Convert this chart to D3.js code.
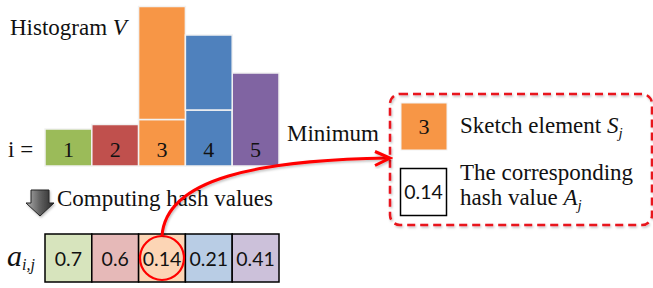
<!DOCTYPE html>
<html><head><meta charset="utf-8">
<script src="https://cdn.jsdelivr.net/npm/d3@7"></script>
<style>html,body{margin:0;padding:0;background:#fff;}svg{display:block;}</style>
</head><body>
<svg id="c" width="653" height="288"></svg>
<script>
// ---- data ----
const categories = [1, 2, 3, 4, 5];
const baseCounts = [37, 41.5, 46.5, 56, 93];     // lower block of each histogram bar
const extraCounts = [0, 0, 113, 75, 0];         // stacked upper block
const hashValues = ["0.7", "0.6", "0.14", "0.21", "0.41"];
const barColors = ["#9BBB59", "#C0504D", "#F79646", "#4F81BD", "#8064A2"];
const cellColors = ["#D7E4BD", "#E6B9B8", "#FCD5B5", "#B9CDE5", "#CCC1DA"];
const minIndex = 2;

const svg = d3.select("#c");
const serif = "'Liberation Serif','Times New Roman',serif";
const sans = "Lato,'Open Sans',sans-serif";
const FS = 23;

const x = d3.scaleBand().domain(categories).range([45, 279]).padding(0);
const y = d3.scaleLinear().domain([0, 160]).range([166, 6]);

const defs = svg.append("defs");
const f = defs.append("filter").attr("id", "sh").attr("x", "-10%").attr("y", "-10%").attr("width", "130%").attr("height", "130%");
f.append("feDropShadow").attr("dx", 1).attr("dy", 1.5).attr("stdDeviation", 1).attr("flood-color", "#000").attr("flood-opacity", 0.25);
const g = defs.append("linearGradient").attr("id", "ag").attr("x1", 0).attr("x2", 1).attr("y1", 0).attr("y2", 0);
g.append("stop").attr("offset", 0).attr("stop-color", "#b0b0b0");
g.append("stop").attr("offset", 0.5).attr("stop-color", "#606060");
g.append("stop").attr("offset", 1).attr("stop-color", "#2a2a2a");

// ---- histogram ----
const bars = svg.append("g");
bars.selectAll("rect.base").data(categories).join("rect")
  .attr("x", d => x(d)).attr("width", x.bandwidth())
  .attr("y", (d, i) => y(baseCounts[i])).attr("height", (d, i) => y(0) - y(baseCounts[i]))
  .attr("fill", (d, i) => barColors[i]).attr("stroke", "#f2f2f2").attr("stroke-width", 1.5);
bars.selectAll("rect.extra").data(categories.filter((d, i) => extraCounts[i] > 0)).join("rect")
  .attr("x", d => x(d)).attr("width", x.bandwidth())
  .attr("y", d => { const i = categories.indexOf(d); return y(baseCounts[i] + extraCounts[i]); })
  .attr("height", d => { const i = categories.indexOf(d); return y(0) - y(extraCounts[i]); })
  .attr("fill", d => barColors[categories.indexOf(d)]).attr("stroke", "#f2f2f2").attr("stroke-width", 1.5);
bars.selectAll("text").data(categories).join("text")
  .attr("x", d => x(d) + x.bandwidth() / 2).attr("y", 157)
  .attr("text-anchor", "middle").attr("font-family", serif).attr("font-size", 22).attr("fill", "#111")
  .text(d => d);

svg.append("text").attr("x", 10).attr("y", 35).attr("font-family", serif).attr("font-size", FS).attr("fill", "#111")
  .text("Histogram ").append("tspan").attr("font-style", "italic").text("V");
svg.append("text").attr("x", 8).attr("y", 157).attr("font-family", serif).attr("font-size", FS).attr("fill", "#111").text("i =");

// ---- computing arrow ----
svg.append("path")
  .attr("d", "M31,190 L49,190 L49,203 L54,203 L40,216 L26,203 L31,203 Z")
  .attr("fill", "url(#ag)").attr("stroke", "#222").attr("stroke-width", 1).attr("filter", "url(#sh)");
svg.append("text").attr("x", 57).attr("y", 206).attr("font-family", serif).attr("font-size", FS).attr("fill", "#111").text("Computing hash values");

// ---- hash row ----
const cellY = 234, cellH = 48;
const row = svg.append("g");
row.selectAll("rect").data(categories).join("rect")
  .attr("x", d => x(d)).attr("width", x.bandwidth()).attr("y", cellY).attr("height", cellH)
  .attr("fill", (d, i) => cellColors[i]).attr("stroke", "#000").attr("stroke-width", 1.5);
const cx = x(categories[minIndex]) + x.bandwidth() / 2, cy = cellY + cellH / 2;
row.append("circle").attr("cx", cx).attr("cy", cy).attr("r", 22)
  .attr("fill", cellColors[minIndex]).attr("stroke", "#FF0000").attr("stroke-width", 2.2);
row.selectAll("text").data(categories).join("text")
  .attr("x", d => x(d) + x.bandwidth() / 2).attr("y", cellY + 32)
  .attr("text-anchor", "middle").attr("font-family", sans).attr("font-size", 19.5).attr("fill", "#111")
  .text((d, i) => hashValues[i]);

const at = svg.append("text").attr("x", 7).attr("y", 266).attr("font-family", serif).attr("font-style", "italic").attr("fill", "#111");
at.append("tspan").attr("font-size", 30).text("a");
at.append("tspan").attr("font-size", 16).attr("dy", 4).text("i,j");

// ---- dashed box ----
const bx = 390, by = 94, bw = 262, bh = 131;
svg.append("rect").attr("x", bx).attr("y", by).attr("width", bw).attr("height", bh).attr("rx", 10)
  .attr("fill", "none").attr("stroke", "#E8141B").attr("stroke-width", 2.5).attr("stroke-dasharray", "8,5")
  .attr("filter", "url(#sh)");
svg.append("rect").attr("x", 401).attr("y", 103).attr("width", 46).attr("height", 47)
  .attr("fill", barColors[minIndex]).attr("stroke", "#f2f2f2").attr("stroke-width", 1);
svg.append("text").attr("x", 424).attr("y", 134).attr("text-anchor", "middle").attr("font-family", serif).attr("font-size", 22).attr("fill", "#111")
  .text(categories[minIndex]);
svg.append("rect").attr("x", 400.5).attr("y", 168.5).attr("width", 46).attr("height", 47)
  .attr("fill", "#fff").attr("stroke", "#000").attr("stroke-width", 1.5);
svg.append("text").attr("x", 423.5).attr("y", 199).attr("text-anchor", "middle").attr("font-family", sans).attr("font-size", 19.5).attr("fill", "#111")
  .text(hashValues[minIndex]);

const t1 = svg.append("text").attr("x", 460).attr("y", 133).attr("font-family", serif).attr("font-size", FS).attr("fill", "#111");
t1.append("tspan").text("Sketch element ");
t1.append("tspan").attr("font-style", "italic").text("S");
t1.append("tspan").attr("font-style", "italic").attr("font-size", 15).attr("dy", 5).text("j");
svg.append("text").attr("x", 460).attr("y", 180).attr("font-family", serif).attr("font-size", FS).attr("fill", "#111").text("The corresponding");
const t2 = svg.append("text").attr("x", 460).attr("y", 205).attr("font-family", serif).attr("font-size", FS).attr("fill", "#111");
t2.append("tspan").text("hash value ");
t2.append("tspan").attr("font-style", "italic").text("A");
t2.append("tspan").attr("font-style", "italic").attr("font-size", 15).attr("dy", 5).text("j");

svg.append("text").attr("x", 287).attr("y", 141).attr("font-family", serif).attr("font-size", FS).attr("fill", "#111").text("Minimum");

// ---- connector ----
const p = d3.path();
p.moveTo(cx, cy - 22);
p.bezierCurveTo(cx + 4, 178, 260, 160, bx - 2, 158);
svg.append("path").attr("d", p.toString()).attr("fill", "none").attr("stroke", "#FF0000").attr("stroke-width", 3).attr("filter", "url(#sh)");
svg.append("path").attr("d", `M${bx - 15},151.5 L${bx},158 L${bx - 15},165.5`)
  .attr("fill", "none").attr("stroke", "#FF0000").attr("stroke-width", 3).attr("stroke-linejoin", "miter").attr("filter", "url(#sh)");
</script>
</body></html>
